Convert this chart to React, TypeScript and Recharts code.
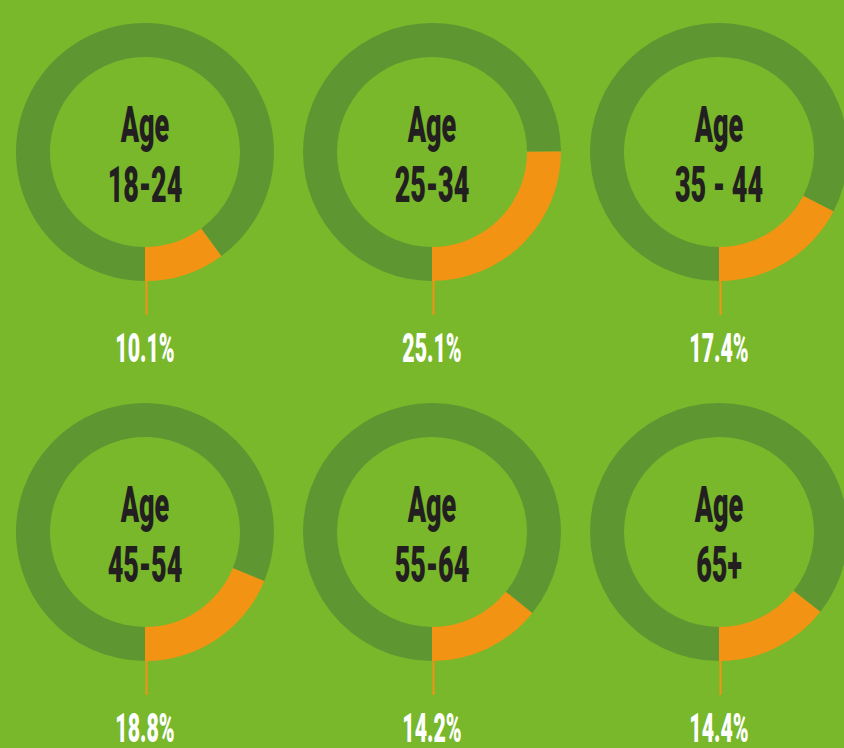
import React from "react";
import { PieChart, Pie, Cell } from "recharts";

const ageGroups = ["18-24", "25-34", "35 - 44", "45-54", "55-64", "65+"];
const shares = [10.1, 25.1, 17.4, 18.8, 14.2, 14.4];
const shareLabels = ["10.1%", "25.1%", "17.4%", "18.8%", "14.2%", "14.4%"];

const W = 844;
const H = 748;
const BG = "#78b82a";
const RING = "#5e9732";
const ORANGE = "#f39314";
const DARK = "#231f20";
const colX = [145, 432, 719];
const rowY = [152, 532];
const INNER = 95;
const OUTER = 129;
const SX = 0.54;

const font = "Roboto, 'DejaVu Sans', sans-serif";

function makeLabel(i: number) {
  return (props: any) => {
    if (props.index !== 0) return null;
    const { cx, cy, outerRadius } = props;
    return (
      <g>
        <line x1={cx + 1.5} y1={cy + outerRadius - 1} x2={cx + 1.5} y2={cy + outerRadius + 34} stroke={ORANGE} strokeWidth={2} />
        <g transform={`translate(${cx},${cy}) scale(${SX},1)`}>
          <text x={0} y={-10} textAnchor="middle" fontFamily={font} fontWeight={900} fontSize={50} fill={DARK}>
            Age
          </text>
          <text x={0} y={50} textAnchor="middle" fontFamily={font} fontWeight={900} fontSize={50} fill={DARK}>
            {ageGroups[i]}
          </text>
        </g>
        <g transform={`translate(${cx},${cy + 210}) scale(0.52,1)`}>
          <text x={0} y={0} textAnchor="middle" fontFamily={font} fontWeight={900} fontSize={41} fill="#ffffff">
            {shareLabels[i]}
          </text>
        </g>
      </g>
    );
  };
}

export default function App() {
  return (
    <div style={{ position: "fixed", left: 0, top: 0, width: W, height: H, background: BG, overflow: "hidden" }}>
      <PieChart width={W} height={H} margin={{ top: 0, right: 0, bottom: 0, left: 0 }}>
        {ageGroups.map((g, i) => {
          const data = [
            { name: g, value: shares[i] },
            { name: "other", value: 100 - shares[i] },
          ];
          return (
            <Pie
              key={g}
              data={data}
              dataKey="value"
              cx={colX[i % 3]}
              cy={rowY[Math.floor(i / 3)]}
              innerRadius={INNER}
              outerRadius={OUTER}
              startAngle={-90}
              endAngle={270}
              stroke="none"
              isAnimationActive={false}
              labelLine={false}
              label={makeLabel(i)}
            >
              <Cell fill={ORANGE} />
              <Cell fill={RING} />
            </Pie>
          );
        })}
      </PieChart>
    </div>
  );
}
